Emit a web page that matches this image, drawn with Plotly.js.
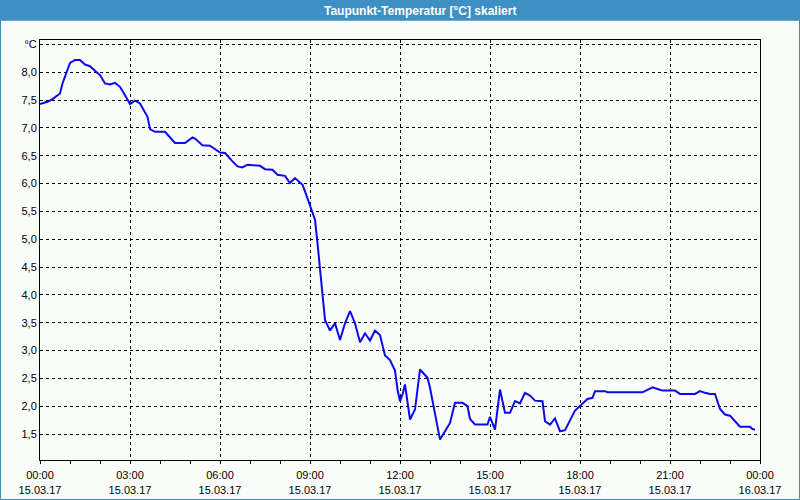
<!DOCTYPE html>
<html>
<head>
<meta charset="utf-8">
<script src="https://cdn.plot.ly/plotly-3.0.1.min.js"></script>
<style>
html,body{margin:0;padding:0;background:#fbfdfb;}
#chart{width:800px;height:500px;}
</style>
</head>
<body>
<div id="chart"></div>
<script>
// Time of day (15.03.2017) and dew-point values
const times = [
"00:00","00:15","00:25","00:40","00:45","00:55","01:00","01:10","01:20","01:30",
"01:40","01:55","02:00","02:10","02:20","02:30","02:40","02:50","03:00","03:10",
"03:20","03:35","03:40","03:50","04:10","04:30","04:50","05:05","05:10","05:25",
"05:40","06:00","06:10","06:25","06:35","06:45","06:55","07:20","07:30","07:45",
"07:55","08:10","08:20","08:30","08:45","08:50","09:00","09:10","09:15","09:20",
"09:25","09:30","09:40","09:50","10:00","10:10","10:20","10:30","10:40","10:50",
"11:00","11:10","11:20","11:30","11:40","11:50","11:55","12:00","12:05","12:10",
"12:20","12:30","12:40","12:55","13:00","13:10","13:20","13:30","13:40","13:50",
"14:05","14:15","14:20","14:30","14:55","15:00","15:10","15:20","15:30","15:40",
"15:50","16:00","16:10","16:20","16:30","16:45","16:50","17:00","17:10","17:20",
"17:30","17:50","18:05","18:15","18:25","18:30","18:50","18:55","20:05","20:15",
"20:25","20:35","20:45","21:10","21:20","21:50","22:00","22:10","22:20","22:30",
"22:40","22:50","23:00","23:10","23:20","23:40","23:45","23:50"
];
const values = [
7.43,7.47,7.52,7.62,7.80,8.04,8.17,8.22,8.22,8.14,
8.11,7.99,7.95,7.80,7.78,7.81,7.74,7.59,7.43,7.49,
7.44,7.20,6.98,6.93,6.93,6.73,6.73,6.83,6.81,6.69,
6.68,6.56,6.55,6.40,6.31,6.29,6.34,6.32,6.26,6.25,
6.16,6.14,6.01,6.10,5.98,5.86,5.59,5.35,4.93,4.45,
4.03,3.55,3.36,3.49,3.19,3.49,3.71,3.49,3.15,3.31,
3.18,3.36,3.28,2.91,2.83,2.64,2.30,2.09,2.21,2.39,
1.76,1.94,2.66,2.51,2.33,1.88,1.40,1.55,1.70,2.06,
2.06,2.00,1.77,1.67,1.67,1.81,1.58,2.30,1.88,1.88,
2.09,2.05,2.24,2.19,2.10,2.09,1.73,1.67,1.78,1.55,
1.57,1.92,2.05,2.13,2.15,2.27,2.27,2.25,2.25,2.30,
2.34,2.31,2.28,2.28,2.22,2.22,2.27,2.24,2.22,2.22,
1.95,1.85,1.83,1.73,1.63,1.63,1.59,1.58
];
const xTickVals = ["2017-03-15 00:00","2017-03-15 03:00","2017-03-15 06:00","2017-03-15 09:00",
  "2017-03-15 12:00","2017-03-15 15:00","2017-03-15 18:00","2017-03-15 21:00","2017-03-16 00:00"];
const xTickText = ["00:00<br>15.03.17","03:00<br>15.03.17","06:00<br>15.03.17","09:00<br>15.03.17",
  "12:00<br>15.03.17","15:00<br>15.03.17","18:00<br>15.03.17","21:00<br>15.03.17","00:00<br>16.03.17"];
const yTickVals = [1.5,2.0,2.5,3.0,3.5,4.0,4.5,5.0,5.5,6.0,6.5,7.0,7.5,8.0,8.5];
const yTickText = ["1,5","2,0","2,5","3,0","3,5","4,0","4,5","5,0","5,5","6,0","6,5","7,0","7,5","8,0","°C"];
const chartTitle = "Taupunkt-Temperatur [°C] skaliert";

const xs = times.map(t => "2017-03-15 " + t);

// pixel helpers for paper coords (plot area 40..760 x 40..460)
const px = p => (p - 40) / 720;
const py = p => (460 - p) / 420;

const trace = {
  x: xs, y: values, type: "scatter", mode: "lines",
  line: {color: "#0a0af0", width: 2},
  hoverinfo: "skip"
};

const layout = {
  width: 800, height: 500,
  margin: {l: 40, r: 40, t: 40, b: 40, pad: 0},
  paper_bgcolor: "#fbfdfb",
  plot_bgcolor: "#fbfdfb",
  showlegend: false,
  font: {family: "Liberation Sans, Arial, sans-serif", size: 11, color: "#000"},
  xaxis: {
    type: "date",
    range: ["2017-03-15 00:00", "2017-03-16 00:00"],
    tickvals: xTickVals, ticktext: xTickText,
    ticks: "outside", ticklen: 3, tickcolor: "#000", tickwidth: 1,
    ticklabelstandoff: 2,
    minor: {dtick: 3600000, tick0: "2017-03-15 00:00", ticks: "outside", ticklen: 3, tickcolor: "#000", showgrid: false},
    showgrid: true, gridcolor: "#000", gridwidth: 1, griddash: "3px,3px",
    showline: true, linecolor: "#000", linewidth: 1, mirror: true,
    zeroline: false, fixedrange: true,
    tickfont: {size: 11, color: "#000"}
  },
  yaxis: {
    range: [1.033, 8.581],
    tickvals: yTickVals, ticktext: yTickText,
    ticks: "",
    showgrid: true, gridcolor: "#000", gridwidth: 1, griddash: "3px,3px",
    showline: true, linecolor: "#000", linewidth: 1, mirror: true,
    zeroline: false, fixedrange: true,
    tickfont: {size: 11, color: "#000"}
  },
  shapes: [
    {type: "rect", xref: "paper", yref: "paper", x0: px(0), x1: px(800), y0: py(20.5), y1: py(0),
     fillcolor: "#3d90c4", line: {width: 0}, layer: "above"},
    {type: "rect", xref: "paper", yref: "paper", x0: px(0.5), x1: px(799.5), y0: py(499.5), y1: py(20),
     fillcolor: "rgba(0,0,0,0)", line: {color: "#3d90c4", width: 1}, layer: "above"}
  ],
  annotations: [
    {text: chartTitle, xref: "paper", yref: "paper", x: px(420), y: py(10.5),
     xanchor: "center", yanchor: "middle", showarrow: false,
     font: {family: "Liberation Sans, Arial, sans-serif", size: 12, color: "#fff", weight: "bold"}}
  ]
};

Plotly.newPlot("chart", [trace], layout, {staticPlot: true, displayModeBar: false});
</script>
</body>
</html>
